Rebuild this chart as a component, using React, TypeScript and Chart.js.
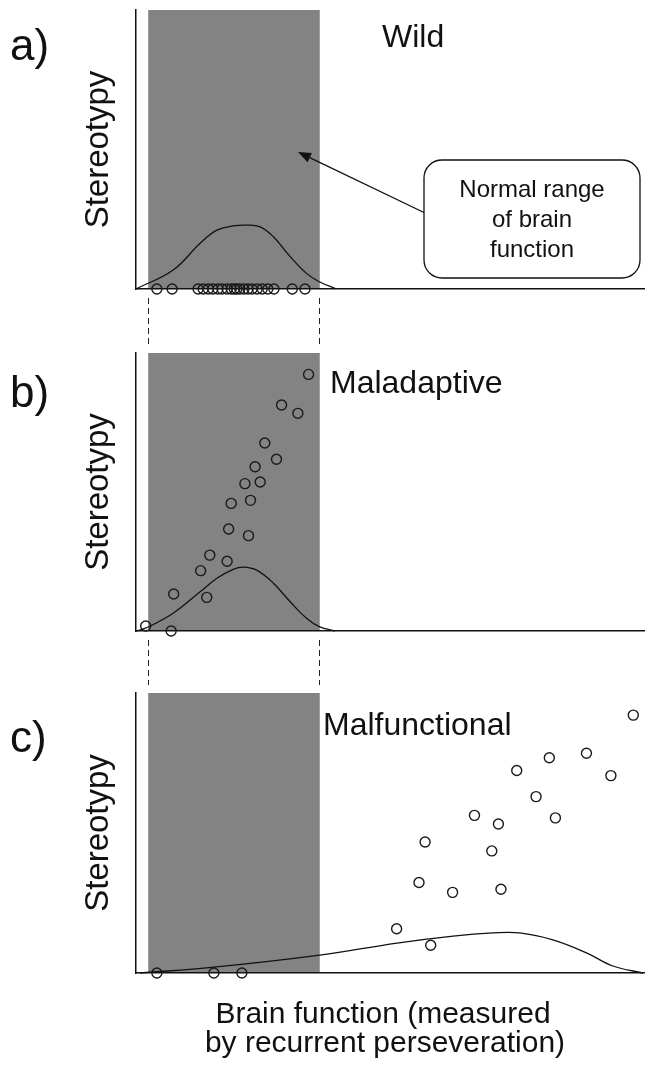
import React, { useEffect, useRef } from "react";
import { Chart, registerables } from "chart.js";

Chart.register(...registerables);

const W = 645;
const H = 1068;
const FONT = '"Liberation Sans", Arial, Helvetica, sans-serif';

// ---------- text ----------
const panelLabels = ["a)", "b)", "c)"];
const panelTitles = ["Wild", "Maladaptive", "Malfunctional"];
const yAxisTitle = "Stereotypy";
const xAxisTitle = ["Brain function (measured", "by recurrent perseveration)"];
const calloutLines = ["Normal range", "of brain", "function"];

// ---------- data (x: brain function 0-100, y: stereotypy 0-100) ----------
const normalRange = [2.4, 36.1];

const wildPointX = [4.1, 7.1, 12.2, 13.2, 14.2, 15.1, 16.1, 16.9, 17.9, 18.7, 19.3, 19.8, 20.4, 21.2, 22.0, 22.8, 23.8, 24.8, 25.9, 27.1, 30.7, 33.2];
const wildPointY = [0, 0, 0, 0, 0, 0, 0, 0, 0, 0, 0, 0, 0, 0, 0, 0, 0, 0, 0, 0, 0, 0];
const wildCurveX = [0, 7.3, 12.6, 15.9, 19.1, 21.7, 24.4, 27.0, 30.3, 33.5, 36.0, 39.4];
const wildCurveY = [0, 6.8, 16.4, 21.1, 22.6, 22.9, 22.3, 18.7, 11.6, 5.6, 2.6, 0];

const maladaptivePointX = [1.9, 6.9, 7.4, 13.9, 12.7, 14.5, 17.9, 18.2, 22.1, 18.7, 22.5, 21.4, 24.4, 23.4, 27.6, 25.3, 28.6, 31.8, 33.9];
const maladaptivePointY = [1.8, 0, 13.3, 12.1, 21.7, 27.3, 25.1, 36.7, 34.3, 45.9, 47.0, 53.0, 53.6, 59.1, 61.8, 67.6, 81.3, 78.3, 92.3];
const maladaptiveCurveX = [0, 2.0, 7.3, 12.6, 15.9, 19.1, 21.1, 23.7, 27.0, 30.3, 33.5, 36.1, 39.1];
const maladaptiveCurveY = [0, 1.1, 6.4, 14.1, 19.0, 22.2, 23.0, 21.9, 17.2, 10.5, 4.6, 1.5, 0];

const malfunctionalPointX = [4.1, 15.3, 20.8, 51.2, 57.9, 55.6, 62.2, 71.7, 56.8, 69.9, 66.5, 71.2, 82.4, 78.6, 74.8, 81.2, 88.5, 93.3, 97.7];
const malfunctionalPointY = [0, 0, 0, 15.8, 9.9, 32.3, 28.8, 29.9, 46.8, 43.6, 56.3, 53.2, 55.4, 63.0, 72.3, 76.9, 78.5, 70.5, 92.1];
const malfunctionalCurveX = [0.8, 15.3, 36.1, 51.3, 62.3, 70.1, 75.4, 81.9, 88.6, 93.7, 99.6];
const malfunctionalCurveY = [0, 2.1, 6.4, 10.7, 13.2, 14.3, 14.3, 11.8, 7.1, 2.5, 0];

const panels = [
  { px: wildPointX, py: wildPointY, cx: wildCurveX, cy: wildCurveY },
  { px: maladaptivePointX, py: maladaptivePointY, cx: maladaptiveCurveX, cy: maladaptiveCurveY },
  { px: malfunctionalPointX, py: malfunctionalPointY, cx: malfunctionalCurveX, cy: malfunctionalCurveY },
];

// ---------- layout ----------
const plotTop = [10, 353, 693];
const plotBottom = [289, 631, 973];
const plotLeft = 136;
const labelBaseline = [60, 407, 752];
const titlePos = [
  [382, 47],
  [330, 393],
  [323, 735],
];
const GRAY = "#838383";
const INK = "#111111";

function makePlugin(idx: number) {
  return {
    id: "panelDecor" + idx,
    beforeDraw(chart: any) {
      const { ctx, chartArea } = chart;
      const xs = chart.scales.x;
      const x0 = xs.getPixelForValue(normalRange[0]);
      const x1 = xs.getPixelForValue(normalRange[1]);
      ctx.save();
      ctx.fillStyle = GRAY;
      ctx.fillRect(x0, chartArea.top, x1 - x0, chartArea.bottom - chartArea.top);
      ctx.restore();
    },
    afterDraw(chart: any) {
      const { ctx, chartArea } = chart;
      const xs = chart.scales.x;
      const x0 = xs.getPixelForValue(normalRange[0]);
      const x1 = xs.getPixelForValue(normalRange[1]);
      ctx.save();
      ctx.fillStyle = INK;
      // panel letter
      ctx.font = `44px ${FONT}`;
      ctx.textAlign = "left";
      ctx.textBaseline = "alphabetic";
      ctx.fillText(panelLabels[idx], 10, labelBaseline[idx]);
      // panel title
      ctx.font = `32px ${FONT}`;
      ctx.fillText(panelTitles[idx], titlePos[idx][0], titlePos[idx][1]);
      // y axis title
      ctx.save();
      ctx.translate(108, (chartArea.top + chartArea.bottom) / 2);
      ctx.rotate(-Math.PI / 2);
      ctx.textAlign = "center";
      ctx.font = `33px ${FONT}`;
      ctx.fillText(yAxisTitle, 0, 0);
      ctx.restore();

      // dashed connectors above panels b and c
      if (idx > 0) {
        const yA = plotBottom[idx - 1] + 9;
        const yB = plotTop[idx] - 8;
        ctx.strokeStyle = "#222";
        ctx.lineWidth = 1;
        ctx.setLineDash([6, 4]);
        [x0, x1 - 1].forEach((x) => {
          ctx.beginPath();
          ctx.moveTo(Math.round(x) + 0.5, yA);
          ctx.lineTo(Math.round(x) + 0.5, yB);
          ctx.stroke();
        });
        ctx.setLineDash([]);
      }

      if (idx === 0) {
        // arrow
        const sx = 425, sy = 213, ex = 298, ey = 152;
        ctx.strokeStyle = INK;
        ctx.lineWidth = 1.3;
        const ang = Math.atan2(ey - sy, ex - sx);
        const hl = 13, hw = 5;
        const bx = ex - hl * Math.cos(ang), by = ey - hl * Math.sin(ang);
        ctx.beginPath();
        ctx.moveTo(sx, sy);
        ctx.lineTo(bx, by);
        ctx.stroke();
        ctx.beginPath();
        ctx.moveTo(ex, ey);
        ctx.lineTo(bx + hw * Math.sin(ang), by - hw * Math.cos(ang));
        ctx.lineTo(bx - hw * Math.sin(ang), by + hw * Math.cos(ang));
        ctx.closePath();
        ctx.fill();
        // callout box
        const bxl = 424, byt = 160, bw = 216, bh = 118, r = 18;
        ctx.beginPath();
        ctx.moveTo(bxl + r, byt);
        ctx.lineTo(bxl + bw - r, byt);
        ctx.arcTo(bxl + bw, byt, bxl + bw, byt + r, r);
        ctx.lineTo(bxl + bw, byt + bh - r);
        ctx.arcTo(bxl + bw, byt + bh, bxl + bw - r, byt + bh, r);
        ctx.lineTo(bxl + r, byt + bh);
        ctx.arcTo(bxl, byt + bh, bxl, byt + bh - r, r);
        ctx.lineTo(bxl, byt + r);
        ctx.arcTo(bxl, byt, bxl + r, byt, r);
        ctx.closePath();
        ctx.fillStyle = "#ffffff";
        ctx.fill();
        ctx.lineWidth = 1.3;
        ctx.stroke();
        ctx.fillStyle = INK;
        ctx.font = `24px ${FONT}`;
        ctx.textAlign = "center";
        calloutLines.forEach((t, i) => ctx.fillText(t, 532, 197 + i * 30));
      }

      if (idx === 2) {
        ctx.font = `30px ${FONT}`;
        ctx.textAlign = "center";
        ctx.fillText(xAxisTitle[0], 383, 1023);
        ctx.fillText(xAxisTitle[1], 385, 1052);
      }
      ctx.restore();
    },
  };
}

function Panel({ idx }: { idx: number }) {
  const ref = useRef<HTMLCanvasElement>(null);
  useEffect(() => {
    const p = panels[idx];
    const axisCommon = {
      display: true,
      ticks: { display: false },
      grid: { display: false, drawTicks: false },
      border: { display: true, color: INK, width: 1.5 },
      title: { display: false },
    };
    const chart = new Chart(ref.current as HTMLCanvasElement, {
      type: "scatter",
      data: {
        datasets: [
          {
            type: "line",
            data: p.cx.map((x, i) => ({ x, y: p.cy[i] })),
            borderColor: INK,
            borderWidth: 1.3,
            pointRadius: 0,
            fill: false,
            tension: 0.4,
            clip: false,
          } as any,
          {
            type: "scatter",
            data: p.px.map((x, i) => ({ x, y: p.py[i] })),
            pointRadius: 5,
            pointBorderWidth: 1.4,
            pointBorderColor: "#1a1a1a",
            pointBackgroundColor: "rgba(0,0,0,0)",
            showLine: false,
            clip: false,
          } as any,
        ],
      },
      options: {
        responsive: false,
        animation: false,
        events: [],
        layout: {
          autoPadding: false,
          padding: {
            left: plotLeft,
            right: 0,
            top: plotTop[idx],
            bottom: H - plotBottom[idx],
          },
        },
        plugins: { legend: { display: false }, tooltip: { enabled: false } },
        scales: {
          x: { type: "linear", min: 0, max: 100, ...axisCommon } as any,
          y: { type: "linear", min: 0, max: 100, ...axisCommon } as any,
        },
      },
      plugins: [makePlugin(idx)],
    });
    return () => chart.destroy();
  }, [idx]);
  return (
    <canvas
      ref={ref}
      width={W}
      height={H}
      style={{ position: "absolute", left: 0, top: 0, width: W, height: H }}
    />
  );
}

export default function App() {
  return (
    <div
      style={{
        position: "absolute",
        left: 0,
        top: 0,
        width: W,
        height: H,
        background: "#ffffff",
        overflow: "hidden",
      }}
    >
      <Panel idx={0} />
      <Panel idx={1} />
      <Panel idx={2} />
    </div>
  );
}
